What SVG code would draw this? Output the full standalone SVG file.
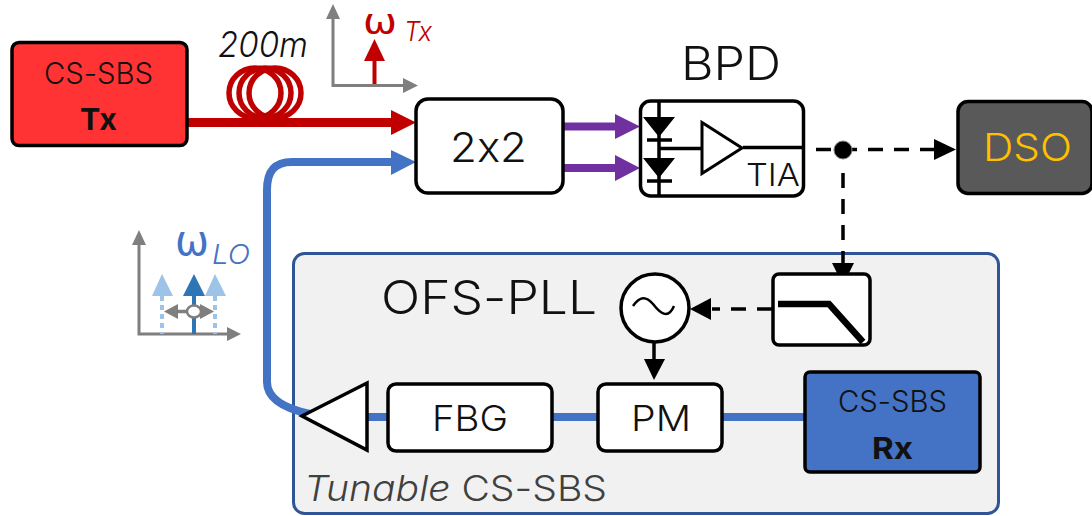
<svg xmlns="http://www.w3.org/2000/svg" width="1092" height="516" viewBox="0 0 1092 516">
<defs>
<style>
text{font-family:"Inter","Open Sans","Liberation Sans",sans-serif;font-weight:300;fill:#111;font-variant-ligatures:none;font-feature-settings:"calt" 0,"liga" 0}
.box{fill:#fff;stroke:#000;stroke-width:3.5}
.lbl{font-size:36px}
.dash{fill:none;stroke:#000;stroke-width:3.5;stroke-dasharray:15 11}
.blue{fill:none;stroke:#4472c4;stroke-width:8}
.ax{fill:none;stroke:#7f7f7f;stroke-width:3}
.k{fill:#000}
.g{fill:#7f7f7f}
.b{font-weight:700}
.om{font-family:"DejaVu Sans","Liberation Sans",sans-serif;font-weight:400}
</style>
</defs>
<g id="tunable">
<rect x="293.500" y="253.500" width="705" height="260" rx="11" fill="#f1f1f1" stroke="#2f5597" stroke-width="3"/>
<text x="304" y="501" font-size="36" style="fill:#404040" textLength="303" lengthAdjust="spacingAndGlyphs"><tspan font-style="italic">Tunable</tspan> CS-SBS</text>
<text x="381" y="314" font-size="46" textLength="216" lengthAdjust="spacingAndGlyphs">OFS-PLL</text>
</g>
<g id="connectors">
<path d="M188 122.500H395" fill="none" stroke="#c00000" stroke-width="9"/>
<path d="M416 122.500L391 110V135Z" fill="#c00000"/>
<g fill="none" stroke="#c00000" stroke-width="5.500">
<ellipse cx="255" cy="93" rx="26" ry="25"/><ellipse cx="265" cy="93" rx="26" ry="25"/><ellipse cx="275" cy="93" rx="26" ry="25"/>
</g>
<path class="blue" d="M395 162H292C274 162 267 172 267 190V382C267 398 282 408 310 414"/>
<path d="M416 162L391 150V175Z" fill="#4472c4"/>
<path class="blue" d="M358 417H388M552 417H598M722 417H805"/>
<g fill="#7030a0">
<path d="M563 122.500h56v8h-56z"/><path d="M640 126.500L615 114V139Z"/>
<path d="M563 164h56v8h-56z"/><path d="M640 168L615 155V181Z"/>
</g>
<path class="dash" d="M816 149.500H934"/>
<path class="k" d="M956 149.500L934 139V160Z"/>
<path class="dash" d="M843 173V266"/>
<path class="k" d="M843 285L832 263H854Z"/>
<path class="dash" d="M772 309H712"/>
<path class="k" d="M690 309L711 298V320Z"/>
<path d="M654 342V360" stroke="#000" stroke-width="3.500" fill="none"/>
<path class="k" d="M654 380L644 359H665Z"/>
<circle cx="843" cy="150" r="9" fill="#000" stroke="#7f7f7f" stroke-width="1"/>
</g>
<g id="spectrum-tx">
<text x="218" y="57" font-size="35" font-style="italic" textLength="90" lengthAdjust="spacingAndGlyphs">200m</text>
<path class="ax" d="M333 14V85.500H410"/>
<path class="g" d="M333 4L326 19H340ZM418 85.500L403 78V93Z"/>
<path d="M374.500 84V58" stroke="#c00000" stroke-width="4" fill="none"/>
<path d="M374.500 39L364 61H385Z" fill="#c00000"/>
<text x="363" y="34" font-size="36" class="om" style="fill:#c00000" textLength="34" lengthAdjust="spacingAndGlyphs">ω</text>
<text x="404" y="41" font-size="27" font-style="italic" style="fill:#c00000" textLength="28" lengthAdjust="spacingAndGlyphs">Tx</text>
</g>
<g id="spectrum-lo">
<path class="ax" d="M139 240V334H232"/>
<path class="g" d="M139 230L132 245H146ZM241 334L227 327V341Z"/>
<path d="M162 296V334M215 296V334" stroke="#9dc3e6" stroke-width="4" stroke-dasharray="5 4" fill="none"/>
<path d="M194 296V334" stroke="#2e75b6" stroke-width="4" fill="none"/>
<path d="M162 274L152 296H173Z" fill="#9dc3e6"/>
<path d="M215 274L205 296H226Z" fill="#9dc3e6"/>
<path d="M194 274L183 296H205Z" fill="#2e75b6"/>
<path d="M172 311.500H205" stroke="#7f7f7f" stroke-width="3.500" fill="none"/>
<path class="g" d="M164 311.500L178 304V319ZM214 311.500L200 304V319Z"/>
<ellipse cx="194" cy="311.500" rx="7" ry="6" fill="#fff" stroke="#7f7f7f" stroke-width="2.500"/>
<text x="175" y="255" font-size="42" class="om" style="fill:#4472c4" textLength="34" lengthAdjust="spacingAndGlyphs">ω</text>
<text x="212" y="264" font-size="27" font-style="italic" style="fill:#4472c4" textLength="38" lengthAdjust="spacingAndGlyphs">LO</text>
</g>
<g id="tx">
<rect x="12" y="42.500" width="175" height="103" rx="7" fill="#ff3333" stroke="#000" stroke-width="3.500"/>
<text x="44" y="84" font-size="30" textLength="109" lengthAdjust="spacingAndGlyphs">CS-SBS</text>
<text x="80" y="130" font-size="30" class="b" textLength="37" lengthAdjust="spacingAndGlyphs">Tx</text>
</g>
<g id="coupler">
<rect class="box" x="416" y="99" width="147" height="94" rx="12"/>
<text x="450" y="162" font-size="41" textLength="77" lengthAdjust="spacingAndGlyphs">2x2</text>
</g>
<g id="bpd">
<text x="681" y="80" font-size="46" textLength="100" lengthAdjust="spacingAndGlyphs">BPD</text>
<rect class="box" x="640.500" y="101" width="163" height="95" rx="10"/>
<path d="M659 101V196M659 148.500H702M743 147.500H803" stroke="#000" stroke-width="3.500" fill="none"/>
<path class="k" d="M643 117H675L659 137ZM643 158H675L659 178Z"/>
<path d="M647 140H672M647 181H672" stroke="#000" stroke-width="3.500" fill="none"/>
<path d="M702 122.500V173.500L742 148Z" fill="#fff" stroke="#000" stroke-width="3"/>
<text x="746" y="186" font-size="31" textLength="54" lengthAdjust="spacingAndGlyphs">TIA</text>
</g>
<g id="dso">
<rect x="958" y="101.500" width="134" height="92" rx="10" fill="#595959" stroke="#000" stroke-width="3.500"/>
<text x="983" y="161" font-size="38" style="fill:#ffc000" textLength="89" lengthAdjust="spacingAndGlyphs">DSO</text>
</g>
<g id="filter">
<rect class="box" x="773" y="274" width="97" height="71" rx="6"/>
<path d="M778 304H829L863 342" fill="none" stroke="#000" stroke-width="6.500"/>
</g>
<g id="oscillator">
<circle cx="655" cy="308" r="34" fill="#fff" stroke="#000" stroke-width="3.500"/>
<path d="M633 306C640 296 646 296 653 304C660 313 668 320 674 306" fill="none" stroke="#000" stroke-width="2.500"/>
</g>
<g id="amp">
<path d="M302 416L367 383V450Z" fill="#fff" stroke="#000" stroke-width="3.500"/>
</g>
<g id="fbg">
<rect class="box" x="388" y="384" width="164" height="67" rx="8"/>
<text x="432" y="431" class="lbl" textLength="76" lengthAdjust="spacingAndGlyphs">FBG</text>
</g>
<g id="pm">
<rect class="box" x="598" y="384" width="124" height="67" rx="8"/>
<text x="631" y="431" class="lbl" textLength="60" lengthAdjust="spacingAndGlyphs">PM</text>
</g>
<g id="rx">
<rect x="805" y="372" width="175" height="100" rx="5" fill="#4472c4" stroke="#000" stroke-width="3.500"/>
<text x="838" y="412" font-size="30" textLength="109" lengthAdjust="spacingAndGlyphs">CS-SBS</text>
<text x="872" y="459" font-size="30" class="b" textLength="41" lengthAdjust="spacingAndGlyphs">Rx</text>
</g>
</svg>
